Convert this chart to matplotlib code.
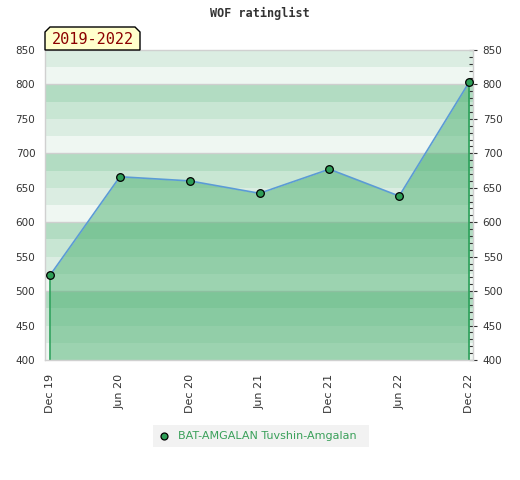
import matplotlib
matplotlib.use("Agg")
import matplotlib.pyplot as plt
from matplotlib.patches import Polygon, FancyBboxPatch
from matplotlib.ticker import MultipleLocator

labels = ["Dec 19", "Jun 20", "Dec 20", "Jun 21", "Dec 21", "Jun 22", "Dec 22"]
ratings = [523, 666, 660, 642, 677, 638, 803]
player = "BAT-AMGALAN Tuvshin-Amgalan"
title = "WOF ratinglist"
period = "2019-2022"
ymin, ymax = 400, 850
band_colors = ["#eff7f2", "#dbede2", "#c8e6d3", "#b2dcc2"]  # from x00 upward in 25 steps

fig = plt.figure(figsize=(5.2, 4.8), dpi=100)
ax = fig.add_axes([45/520, 1-360/480, 428/520, 310/480])
x = list(range(len(labels)))

# background bands
y = ymin
i = 0
while y < ymax:
    ax.axhspan(y, y+25, color=band_colors[i % 4], lw=0, zorder=0)
    y += 25
    i += 1
for yy in range(500, 900, 100):
    ax.axhline(yy, color="#cfcfcf", lw=1, zorder=0.5)

ax.fill_between(x, ratings, ymin, color="#4ab070", alpha=0.5, lw=0, zorder=1)
ax.vlines([x[0], x[-1]], ymin, [ratings[0], ratings[-1]], color="#2ca05a", lw=1.2, zorder=2)
ax.plot(x, ratings, color="#5b9bd5", lw=1.2, zorder=3)
ax.plot(x, ratings, "o", ms=5.5, mfc="#2e9e57", mec="black", mew=0.9, zorder=4)

ax.set_xlim(-0.072, 6.057)
ax.set_ylim(ymin, ymax)
ax.set_xticks(x)
ax.set_xticklabels(labels, rotation=90, fontsize=8, color="#333333")
ax.set_yticks(range(400, 851, 50))
ax.yaxis.set_minor_locator(MultipleLocator(10))
ax.tick_params(axis="y", which="major", left=False, right=True, labelleft=True, labelright=True,
               labelsize=7.5, labelcolor="#333333", direction="inout", length=6, color="#333333",
               width=0.8, pad=4)
ax.tick_params(axis="y", which="minor", left=False, right=True, direction="in", length=3,
               color="#333333", width=0.8)
ax.tick_params(axis="x", length=0, pad=10)
for s in ax.spines.values():
    s.set_color("#d0d0d0")
    s.set_linewidth(1)

fig.text(260/520, 1-13/480, title, ha="center", va="center", fontsize=8.5,
         family="DejaVu Sans Mono", fontweight="bold", color="#333333")

# period label box with chamfered top corners
def fx(px): return px/520
def fy(py): return 1-py/480
poly = Polygon([(fx(45), fy(50)), (fx(45), fy(32)), (fx(50), fy(27)), (fx(135), fy(27)),
                (fx(140), fy(32)), (fx(140), fy(50))], closed=True,
               transform=fig.transFigure, facecolor="#ffffcc", edgecolor="black", lw=1, zorder=5)
fig.add_artist(poly)
fig.text(fx(92.5), fy(40), period, ha="center", va="center", fontsize=11,
         family="DejaVu Sans Mono", color="#8b0000", zorder=6)

# legend
bg = FancyBboxPatch((fx(153), fy(447)), fx(369)-fx(153), fy(425)-fy(447),
                    boxstyle="square,pad=0", transform=fig.transFigure,
                    facecolor="#f2f2f2", edgecolor="none")
fig.add_artist(bg)
fig.add_artist(plt.Line2D([fx(164)], [fy(436)], marker="o", ms=5, mfc="#2e9e57", mec="black",
                          mew=0.9, transform=fig.transFigure))
fig.text(fx(178), fy(436), player, ha="left", va="center", fontsize=8, color="#3aa05a")

fig.savefig("out.png", dpi=100)
